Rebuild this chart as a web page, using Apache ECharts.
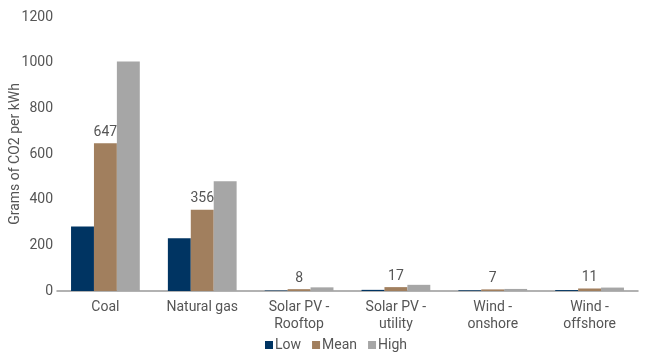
<!DOCTYPE html>
<html><head><meta charset="utf-8">
<script src="https://cdn.jsdelivr.net/npm/echarts@6/dist/echarts.min.js"></script>
<style>html,body{margin:0;padding:0;background:#fff}#c{width:650px;height:357px}</style>
</head><body><div id="c"></div>
<script>
const categories = ['Coal', 'Natural gas', 'Solar PV -\nRooftop', 'Solar PV -\nutility', 'Wind -\nonshore', 'Wind -\noffshore'];
const lowValues = [282, 231, 2, 5, 3, 4];
const meanValues = [647, 356, 8, 17, 7, 11];
const highValues = [1005, 481, 16, 27, 9, 15];
const yTicks = {min: 0, max: 1200, interval: 200};

const font = 'Roboto';
const chart = echarts.init(document.getElementById('c'));
chart.setOption({
  animation: false,
  textStyle: {fontFamily: font},
  grid: {left: 57, right: 12, top: 17, bottom: 66, containLabel: false, outerBoundsMode: 'none'},
  legend: {
    top: 333, left: 260, itemWidth: 8, itemHeight: 8, itemGap: 11,
    icon: 'rect',
    textStyle: {fontSize: 14, color: '#555', fontFamily: font, padding: [0, 0, 0, -3]},
    data: ['Low', 'Mean', 'High']
  },
  xAxis: {
    type: 'category', data: categories,
    axisLine: {lineStyle: {color: '#999', width: 1.5}},
    axisTick: {show: false},
    axisLabel: {fontSize: 14, color: '#555', lineHeight: 17, margin: 8, interval: 0}
  },
  yAxis: {
    type: 'value', min: yTicks.min, max: yTicks.max, interval: yTicks.interval,
    name: 'Grams of CO2 per kWh', nameLocation: 'middle', nameGap: 35, nameMoveOverlap: false,
    nameTextStyle: {fontSize: 14, color: '#555'},
    axisLine: {show: false}, axisTick: {show: false}, splitLine: {show: false},
    axisLabel: {fontSize: 14, color: '#555', margin: 4, formatter: v => String(v)}
  },
  series: [
    {name: 'Low', type: 'bar', data: lowValues, itemStyle: {color: '#003462'}, barGap: '0%', barCategoryGap: '29%'},
    {name: 'Mean', type: 'bar', data: meanValues, itemStyle: {color: '#a17f5e'},
     label: {show: true, position: 'top', fontSize: 14, color: '#555', distance: 4}},
    {name: 'High', type: 'bar', data: highValues, itemStyle: {color: '#a6a6a6'}}
  ]
});
</script></body></html>
